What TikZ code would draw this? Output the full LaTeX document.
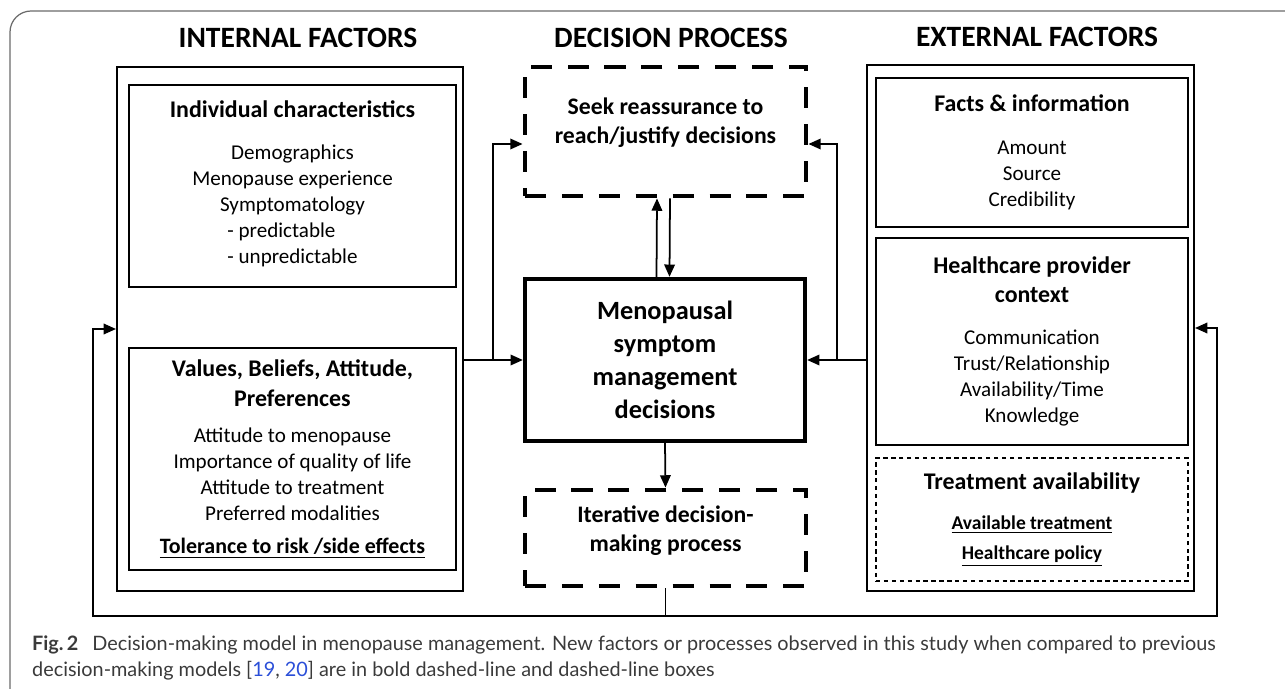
\documentclass[tikz,border=0pt]{standalone}
\usepackage{fontspec}
\setmainfont{Carlito}
\newfontfamily\capfont{Lato}
\usepackage{tikz}
\usetikzlibrary{arrows.meta, positioning}

\definecolor{capgray}{HTML}{3A3A3A}
\definecolor{reflink}{HTML}{2B4FD8}
\definecolor{framegray}{HTML}{6A6A6A}

\newcommand{\hd}[1]{{\fontsize{13.6}{16.5}\selectfont\bfseries #1}}

\begin{document}
\begin{tikzpicture}[
    x=0.02cm, y=-0.02cm,
    title/.style={font=\fontsize{16.8}{19}\selectfont\bfseries},
    outerbox/.style={rectangle, draw, line width=1.2pt},
    innerbox/.style={rectangle, draw, line width=0.7pt, align=center, minimum width=6.54cm, font=\fontsize{12}{14.8}\selectfont},
    dashbox/.style={rectangle, draw, line width=2.8pt, dash pattern=on 12pt off 9pt, align=center, minimum width=5.62cm, font=\fontsize{13.5}{16.5}\selectfont\bfseries},
    arrow/.style={-{Triangle[length=7pt, width=6pt]}, line width=1pt},
    line/.style={line width=1pt}
]
    \useasboundingbox (0,0) rectangle (1285,689);
    \draw[framegray, line width=0.7pt, rounded corners=12] (1285,11) -- (10,11) -- (10,689);

    % Titles
    \node[title] (inttitle) at (298,38) {INTERNAL FACTORS};
    \node[title] (dectitle) at (671,38) {DECISION PROCESS};
    \node[title] (exttitle) at (1037,37) {EXTERNAL FACTORS};

    % Internal factors
    \node[outerbox, minimum width=6.92cm, minimum height=10.48cm] (leftouter) at (290,329) {};
    \node[innerbox, minimum height=4.04cm] (indiv) at (292.5,186)
        {\hd{Individual characteristics}\\[9pt]
         Demographics\\ Menopause experience\\ Symptomatology\\
         \begin{tabular}[t]{@{}l@{}}- predictable\\- unpredictable\end{tabular}};
    \node[innerbox, minimum width=6.54cm, minimum height=4.44cm] (values) at (292.5,459)
        {\hd{Values, Beliefs, Attitude,}\\[2pt] \hd{Preferences}\\[6pt]
         Attitude to menopause\\ Importance of quality of life\\ Attitude to treatment\\ Preferred modalities\\[4pt]
         {\fontsize{12.5}{14}\selectfont\bfseries\underline{Tolerance to risk /side effects}}};

    % Decision process
    \node[dashbox, minimum height=2.58cm] (seek) at (665.5,131.5)
        {Seek reassurance to\\ reach/justify decisions\\[-4pt]\mbox{}};
    \node[rectangle, draw, line width=2.5pt, minimum width=5.6cm, minimum height=3.24cm, align=center,
          font=\fontsize{15}{18.8}\selectfont\bfseries] (mainbox) at (665,360)
        {Menopausal\\ symptom\\ management\\ decisions};
    \node[dashbox, minimum height=1.92cm] (iter) at (665.5,538)
        {Iterative decision-\\ making process\\[-6pt]\mbox{}};

    % External factors
    \node[outerbox, minimum width=6.54cm, minimum height=10.52cm] (rightouter) at (1030.5,328) {};
    \node[innerbox, minimum width=6.24cm, minimum height=2.98cm] (facts) at (1032,152.5)
        {\hd{Facts \& information}\\[10pt] Amount\\ Source\\ Credibility};
    \node[innerbox, minimum width=6.24cm, minimum height=4.14cm] (health) at (1032,341.5)
        {\hd{Healthcare provider}\\[2pt] \hd{context}\\[9pt]
         Communication\\ Trust/Relationship\\ Availability/Time\\ Knowledge};
    \node[innerbox, dash pattern=on 2.5pt off 2pt, minimum width=6.24cm, minimum height=2.46cm] (treat) at (1032,519.5)
        {\hd{Treatment availability}\\[8pt]
         {\fontsize{11.1}{12}\selectfont\bfseries\underline{Available treatment}}\\[2pt]
         {\fontsize{11.1}{12}\selectfont\bfseries\underline{Healthcare policy}}};

    % Branch points
    \coordinate (brL) at (493,360);
    \coordinate (brR) at (837,360);
    \coordinate (loopL) at (93,616);
    \coordinate (loopR) at (1217,616);

    % Arrows
    \draw[arrow] (leftouter.east |- mainbox.west) -- (mainbox.west);
    \draw[arrow] (brL) |- ([yshift=-0.25cm]seek.west);
    \draw[arrow] (rightouter.west |- mainbox.east) -- (mainbox.east);
    \draw[arrow] (brR) |- ([yshift=-0.25cm]seek.east);
    \draw[arrow] ([xshift=-0.17cm]mainbox.north) -- ([xshift=-0.17cm]seek.south);
    \draw[arrow] ([xshift=0.09cm]seek.south) -- ([xshift=0.09cm]mainbox.north);
    \draw[arrow] (mainbox.south) -- (iter.north);
    \draw[arrow] (iter.south) |- (loopL) |- (leftouter.west);
    \draw[arrow] (iter.south) |- (loopR) |- (rightouter.east);

    % Caption
    \node[anchor=base west, align=left, text=capgray, font=\capfont\fontsize{11.3}{14.8}\selectfont] (caption) at (26,676)
        {{\bfseries Fig.\,2}\hspace{0.7em}Decision-making model in menopause management. New factors or processes observed in this study when compared to previous\\
         decision-making models [{\color{reflink}19}, {\color{reflink}20}] are in bold dashed-line and dashed-line boxes};
\end{tikzpicture}
\end{document}
